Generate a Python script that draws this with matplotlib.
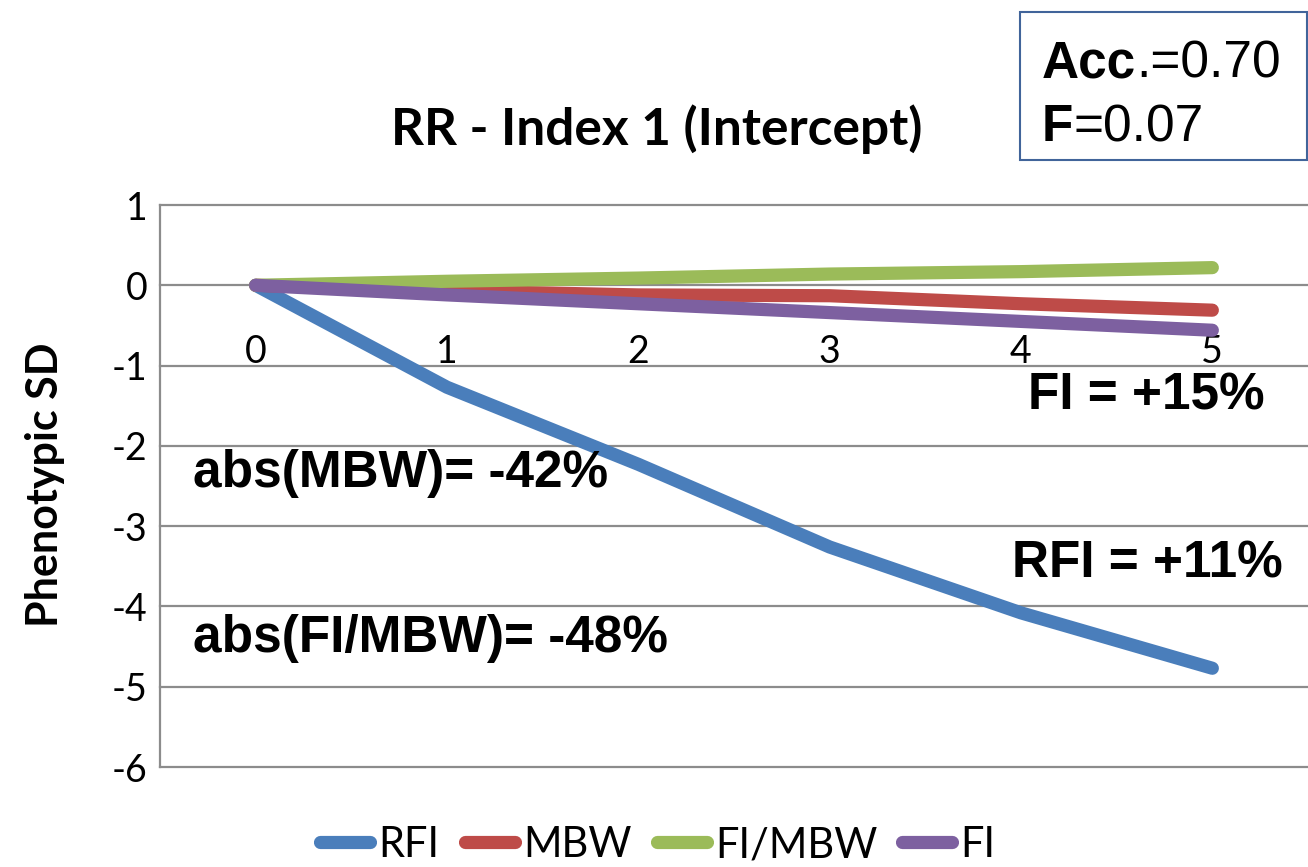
import matplotlib
matplotlib.use("Agg")
import matplotlib.pyplot as plt
from matplotlib.patches import Rectangle

# --- data ---
generations = [0, 1, 2, 3, 4, 5]
rfi = [0, -1.27, -2.23, -3.26, -4.08, -4.77]
mbw = [0, -0.07, -0.12, -0.13, -0.23, -0.31]
fi_mbw = [0, 0.05, 0.09, 0.14, 0.17, 0.22]
fi = [0, -0.12, -0.23, -0.34, -0.45, -0.56]

series_names = ["RFI", "MBW", "FI/MBW", "FI"]
series_colors = ["#4A7EBB", "#BE4B48", "#9BBB59", "#7D60A0"]
y_ticks = [1, 0, -1, -2, -3, -4, -5, -6]

plt.rcParams["font.family"] = ["Lato", "DejaVu Sans"]
plt.rcParams["axes.unicode_minus"] = False

W, H = 1308, 867
fig = plt.figure(figsize=(W / 100, H / 100), dpi=100)


def fx(px):
    return px / W


def fy(py):
    return 1 - py / H


ax = fig.add_axes([fx(160), fy(767), fx(1308) - fx(160), fy(205) - fy(767)])

for vals, name, col in zip([rfi, mbw, fi_mbw, fi], series_names, series_colors):
    ax.plot(generations, vals, color=col, lw=9.5, solid_capstyle="round",
            solid_joinstyle="round", label=name, zorder=3)

ax.set_xlim(-0.5, 5.5)
ax.set_ylim(-6, 1)
ax.set_yticks(y_ticks)
ax.set_xticks(generations)

ax.spines["bottom"].set_position(("data", 0))
ax.spines["bottom"].set_color("none")
ax.spines["top"].set_visible(False)
ax.spines["right"].set_visible(False)
ax.spines["left"].set_color("#8c8c8c")
ax.spines["left"].set_linewidth(1.6)
ax.tick_params(axis="x", length=0, pad=35, labelsize=27)
ax.tick_params(axis="y", length=0, pad=9, labelsize=27)
ax.yaxis.grid(True, color="#8c8c8c", lw=1.6, zorder=1)
ax.set_axisbelow(True)
for gl in ax.get_ygridlines():
    gl.set_clip_on(False)

# title and axis label
fig.text(fx(657), fy(145), "RR - Index 1 (Intercept)", ha="center", va="baseline",
         fontsize=37, fontweight="bold")
fig.text(fx(45), fy(485), "Phenotypic SD", rotation=90, ha="center", va="center",
         fontsize=31, fontweight="bold")

# annotations
ann_font = "Liberation Sans"
fig.text(fx(1028), fy(410), "FI = +15%", fontsize=37, fontweight="bold",
         fontfamily=ann_font, va="baseline")
fig.text(fx(193), fy(487), "abs(MBW)= -42%", fontsize=37, fontweight="bold",
         fontfamily=ann_font, va="baseline")
fig.text(fx(1012), fy(577), "RFI = +11%", fontsize=37, fontweight="bold",
         fontfamily=ann_font, va="baseline")
fig.text(fx(193), fy(652), "abs(FI/MBW)= -48%", fontsize=37, fontweight="bold",
         fontfamily=ann_font, va="baseline")

# info box
fig.patches.append(Rectangle((fx(1020), fy(160)), fx(1307) - fx(1020), fy(12) - fy(160),
                             transform=fig.transFigure, fill=False,
                             edgecolor="#41649A", lw=1.5))
for label, value, base in [("Acc", ".=0.70", 88), ("F", "=0.07", 152)]:
    t1 = fig.text(fx(1042), fy(base), label, fontsize=37, fontweight="bold",
                  fontfamily=ann_font, va="bottom")
    ax.annotate(value, xy=(1, 0), xycoords=t1, fontsize=37, fontfamily=ann_font,
                va="bottom", ha="left", annotation_clip=False)

leg = ax.legend(loc="center", bbox_to_anchor=(fx(658), fy(845)),
                bbox_transform=fig.transFigure, ncol=4, frameon=False,
                handlelength=1.2, handletextpad=0.2, columnspacing=0.6,
                prop={"size": 30})

fig.savefig("out.png", dpi=100)
